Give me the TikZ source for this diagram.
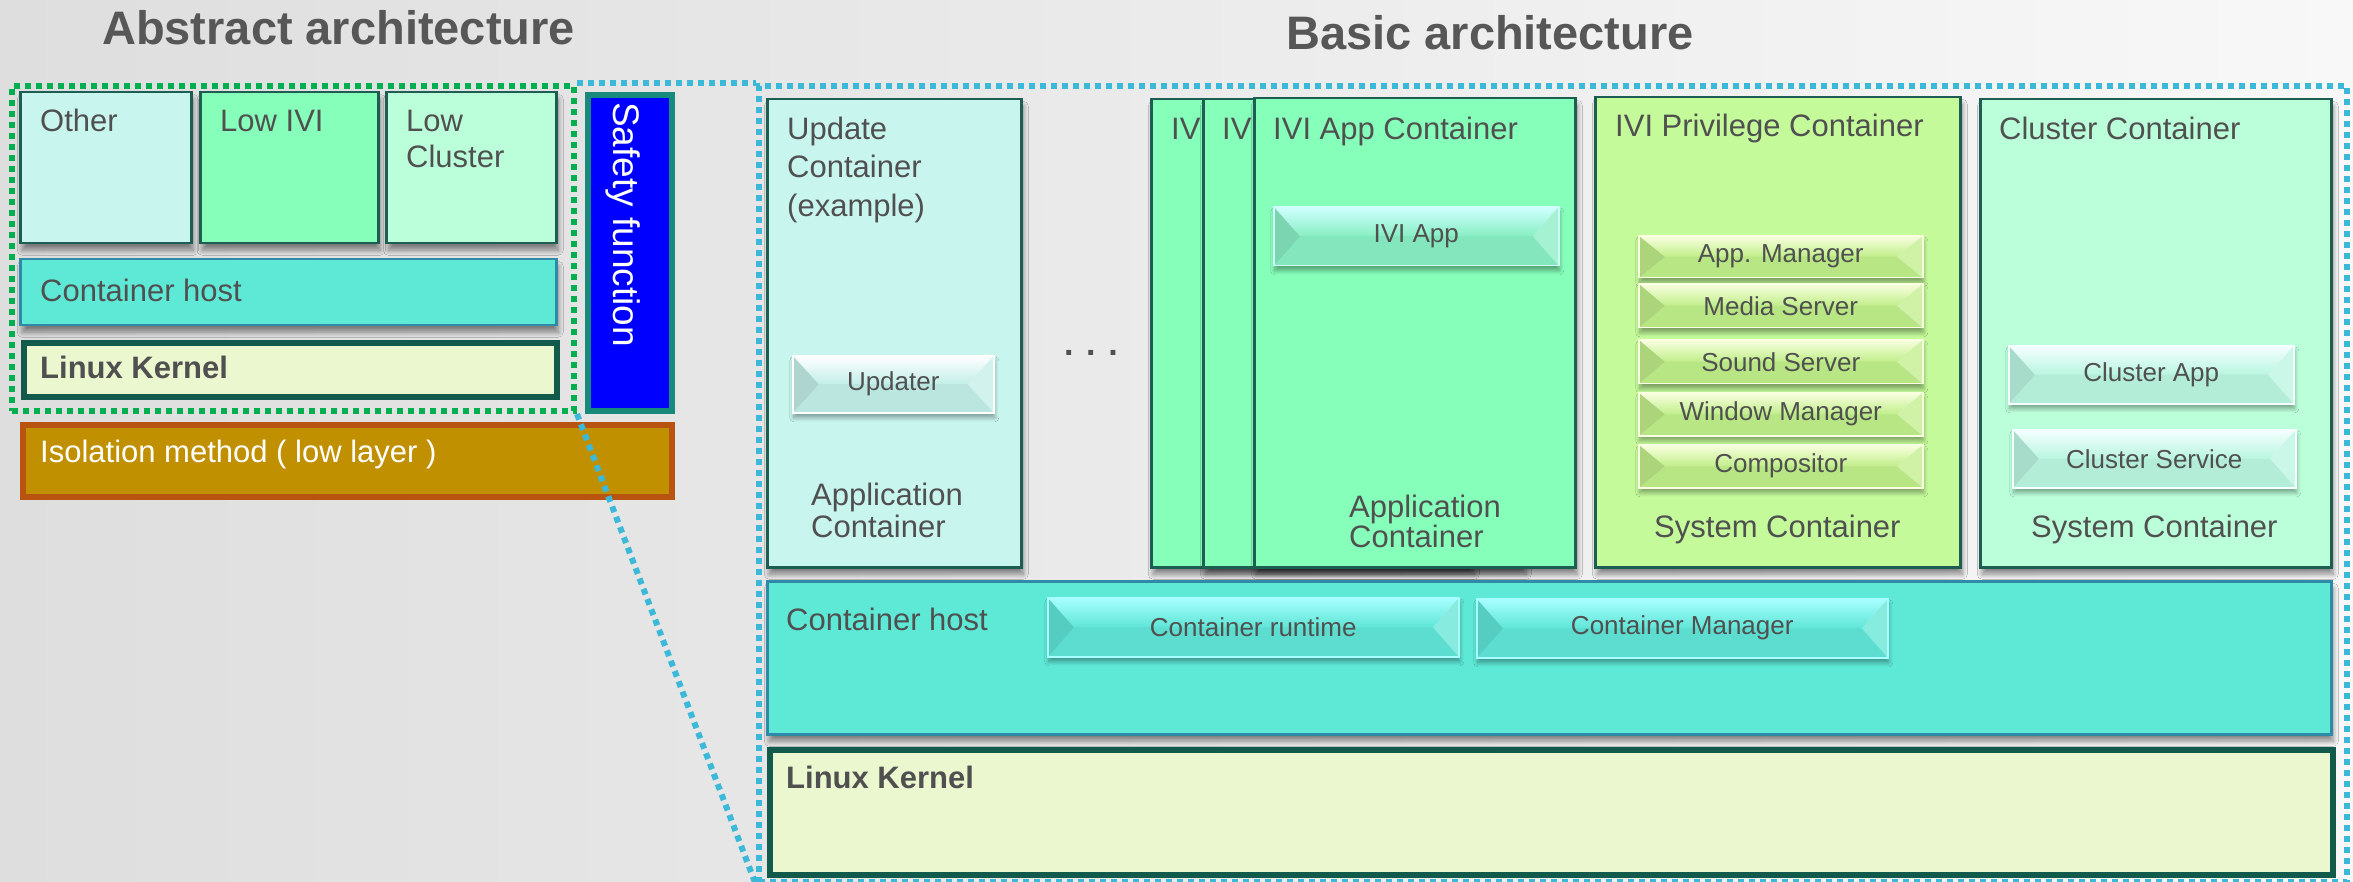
\documentclass[tikz,border=0pt]{standalone}
\usepackage{fontspec}
\setmainfont{Liberation Sans}
\usetikzlibrary{shadows,shadows.blur,calc}
\definecolor{bgL}{HTML}{DEDEDE}
\definecolor{bgR}{HTML}{F8F8F8}
\definecolor{txt}{HTML}{505050}
\definecolor{ttl}{HTML}{575757}
\definecolor{boxline}{HTML}{1E5E52}
\definecolor{cUpd}{HTML}{C8F5EE}
\definecolor{cIvi}{HTML}{86FFBA}
\definecolor{cPriv}{HTML}{C4FA9A}
\definecolor{cClu}{HTML}{BBFFDA}
\definecolor{cHost}{HTML}{5EE8D6}
\definecolor{hostline}{HTML}{2E8AA6}
\definecolor{cKern}{HTML}{EBF7CF}
\definecolor{kernline}{HTML}{125A4C}
\definecolor{cSafe}{HTML}{0000FF}
\definecolor{safeline}{HTML}{178A7C}
\definecolor{cIso}{HTML}{C09000}
\definecolor{isoline}{HTML}{B8540F}
\definecolor{dotgreen}{HTML}{00B050}
\definecolor{dotblue}{HTML}{3CB8D8}
\definecolor{bvUpdB}{HTML}{C2EEE8}
\definecolor{bvUpdT}{HTML}{FFFFFF}
\definecolor{bvIviB}{HTML}{88EEC4}
\definecolor{bvIviT}{HTML}{D0FFFF}
\definecolor{bvPrvB}{HTML}{C0EE8A}
\definecolor{bvPrvT}{HTML}{FAFFE0}
\definecolor{bvCluB}{HTML}{B9F5E0}
\definecolor{bvCluT}{HTML}{F5FFFF}
\definecolor{bvHstB}{HTML}{5FE5D6}
\definecolor{bvHstT}{HTML}{A8FFFF}
\tikzset{
  box/.style={anchor=north west, inner sep=0pt, draw=boxline, line width=2.5pt,
    blur shadow={shadow xshift=2pt, shadow yshift=-7pt, shadow blur radius=5pt, shadow blur steps=10, shadow opacity=45}},
  thickbox/.style={anchor=north west, inner sep=0pt, line width=6pt},
  dotbox/.style={anchor=north west, inner sep=0pt, line width=6pt, dash pattern=on 6pt off 5pt},
  lens/.style={draw=dotblue, line width=6pt, dash pattern=on 6pt off 5pt},
  lbl/.style={anchor=base west, inner sep=0pt, text=txt, font=\fontsize{31}{37}\selectfont},
  blbl/.style={lbl, font=\fontsize{31}{37}\selectfont\bfseries},
  ttlstyle/.style={anchor=base west, inner sep=0pt, text=ttl, font=\fontsize{47}{56}\selectfont\bfseries},
  bevel/.style 2 args={anchor=north west, inner sep=0pt, draw=#2, line width=1.5pt, fill=#1,
    text=txt, font=\fontsize{26}{30}\selectfont,
    blur shadow={shadow xshift=1pt, shadow yshift=-5pt, shadow blur radius=4pt, shadow blur steps=8, shadow opacity=35},
    path picture={
      \coordinate (bNW) at (path picture bounding box.north west);
      \coordinate (bNE) at (path picture bounding box.north east);
      \coordinate (bSW) at (path picture bounding box.south west);
      \coordinate (bSE) at (path picture bounding box.south east);
      \coordinate (bL) at ($(path picture bounding box.west)+(26pt,0pt)$);
      \coordinate (bR) at ($(path picture bounding box.east)+(-26pt,0pt)$);
      \shade[top color=#2, bottom color=#1] (bNW) -- (bNE) -- (bR) -- (bL) -- cycle;
      \fill[black, opacity=0.10] (bNW) -- (bL) -- (bSW) -- cycle;
      \fill[white, opacity=0.25] (bNE) -- (bR) -- (bSE) -- cycle;
      \fill[black, opacity=0.03] (bSW) -- (bL) -- (bR) -- (bSE) -- cycle;
    }},
}
\begin{document}
\begin{tikzpicture}[x=1pt,y=-1pt]
\useasboundingbox (0,0) rectangle (2353,882);
\shade[left color=bgL, right color=bgR] (0,0) rectangle (2353,882);

% titles
\node[ttlstyle] (tAbs) at (102,45) {Abstract architecture};
\node[ttlstyle] (tBas) at (1286,50) {Basic architecture};

% dotted frames
\node[dotbox, draw=dotgreen, minimum width=562pt, minimum height=325pt] (abs) at (9,83) {};
\node[dotbox, draw=dotblue, minimum width=1588pt, minimum height=796pt] (basic) at (756,83) {};

% ---------- abstract architecture ----------
\node[box, fill=cUpd, minimum width=171pt, minimum height=151pt] (other) at (19,91) {};
\node[box, fill=cIvi, minimum width=178pt, minimum height=151pt] (lowivi) at (199,91) {};
\node[box, fill=cClu, minimum width=170pt, minimum height=151pt] (lowclu) at (385,91) {};
\node[lbl] (tOther) at (40,132) {Other};
\node[lbl] (tLowIvi) at (220,132) {Low IVI};
\node[lbl] (tLowA) at (406,132) {Low};
\node[lbl] (tLowB) at (406,168) {Cluster};

\node[box, draw=hostline, fill=cHost, minimum width=536pt, minimum height=66pt] (ahost) at (19,258) {};
\node[lbl] (tAhost) at (40,302) {Container host};

\node[thickbox, draw=kernline, fill=cKern, minimum width=533pt, minimum height=54pt] (akern) at (21,340) {};
\node[blbl] (tAkern) at (40,378) {Linux Kernel};

\node[thickbox, draw=safeline, fill=cSafe, minimum width=84pt, minimum height=316pt] (safe) at (585,92) {};
\node[rotate=-90, anchor=base west, inner sep=0pt, text=white, font=\fontsize{37}{42}\selectfont] (tSafe) at (613,102) {Safety function};

\node[thickbox, draw=isoline, fill=cIso, minimum width=649pt, minimum height=72pt] (iso) at (20,422) {};
\node[lbl, text=white] (tIso) at (40,462) {Isolation method ( low layer )};

% lens connectors
\draw[lens] (abs.north east) -- (basic.north west);
\draw[lens] (abs.south east) -- (basic.south west);

% ---------- basic architecture ----------
% update container
\node[box, fill=cUpd, minimum width=254pt, minimum height=468pt] (upd) at (766,98) {};
\node[lbl] (tUpd1) at (787,140) {Update};
\node[lbl] (tUpd2) at (787,178) {Container};
\node[lbl] (tUpd3) at (787,217) {(example)};
\node[bevel={bvUpdB}{bvUpdT}, minimum width=201pt, minimum height=57pt] (updater) at (792,355) {Updater};
\node[lbl] (tUpdA1) at (811,505) {Application};
\node[lbl] (tUpdA2) at (811,537) {Container};

\node[lbl, font=\fontsize{34}{40}\selectfont\bfseries] (dots) at (1064,356) {. . .};

% IVI app containers
\node[box, fill=cIvi, minimum width=321pt, minimum height=468pt] (ivi1) at (1150,98) {};
\node[lbl] (tIvi1) at (1171,140) {IV};
\node[box, fill=cIvi, minimum width=321pt, minimum height=468pt] (ivi2) at (1202,98) {};
\node[lbl] (tIvi2) at (1222,140) {IV};
\node[box, fill=cIvi, minimum width=321pt, minimum height=469pt] (ivi3) at (1253,97) {};
\node[lbl] (tIvi3) at (1273,140) {IVI App Container};
\node[bevel={bvIviB}{bvIviT}, minimum width=285pt, minimum height=59pt] (iviapp) at (1273,206) {IVI App};
\node[lbl] (tIviA1) at (1349,517) {Application};
\node[lbl] (tIviA2) at (1349,547) {Container};

% IVI privilege container
\node[box, fill=cPriv, minimum width=365pt, minimum height=470pt] (priv) at (1594,96) {};
\node[lbl] (tPriv) at (1615,137) {IVI Privilege Container};
\node[bevel={bvPrvB}{bvPrvT}, minimum width=284pt, minimum height=42pt] (appmgr) at (1638,235) {App. Manager};
\node[bevel={bvPrvB}{bvPrvT}, minimum width=284pt, minimum height=44pt] (media) at (1638,283) {Media Server};
\node[bevel={bvPrvB}{bvPrvT}, minimum width=284pt, minimum height=44pt] (sound) at (1638,339) {Sound Server};
\node[bevel={bvPrvB}{bvPrvT}, minimum width=284pt, minimum height=43pt] (window) at (1638,392) {Window Manager};
\node[bevel={bvPrvB}{bvPrvT}, minimum width=284pt, minimum height=43pt] (compos) at (1638,444) {Compositor};
\node[lbl] (tPrivS) at (1654,537) {System Container};

% cluster container
\node[box, fill=cClu, minimum width=351pt, minimum height=468pt] (clu) at (1979,98) {};
\node[lbl] (tClu) at (1999,140) {Cluster Container};
\node[bevel={bvCluB}{bvCluT}, minimum width=285pt, minimum height=58pt] (cluapp) at (2008,345) {Cluster App};
\node[bevel={bvCluB}{bvCluT}, minimum width=283pt, minimum height=58pt] (clusvc) at (2012,429) {Cluster Service};
\node[lbl] (tCluS) at (2031,537) {System Container};

% container host
\node[box, draw=hostline, fill=cHost, minimum width=1564pt, minimum height=153pt] (host) at (766,580) {};
\node[lbl] (tHost) at (786,630) {Container host};
\node[bevel={bvHstB}{bvHstT}, minimum width=411pt, minimum height=59pt] (runtime) at (1047,597) {Container runtime};
\node[bevel={bvHstB}{bvHstT}, minimum width=411pt, minimum height=59pt] (cmgr) at (1476,598) {Container Manager};

% linux kernel
\node[thickbox, draw=kernline, fill=cKern, minimum width=1563pt, minimum height=125pt] (kern) at (767,747) {};
\node[blbl] (tKern) at (786,788) {Linux Kernel};
\end{tikzpicture}
\end{document}
